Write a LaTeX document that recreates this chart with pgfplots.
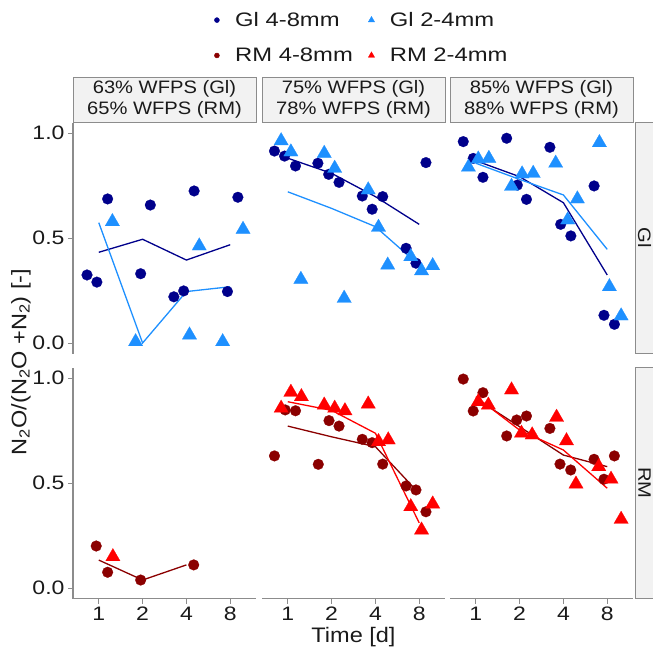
\documentclass[border=0pt]{standalone}
\usepackage{pgfplots}
\pgfplotsset{compat=1.18}
\usepackage{fontspec}
\setmainfont{Liberation Sans}
\newfontfamily\tickfont[FakeStretch=1.18]{Liberation Sans}
\newfontfamily\legfont[FakeStretch=1.22]{Liberation Sans}
\newfontfamily\titfont[FakeStretch=1.12]{Liberation Sans}
\newfontfamily\stripfont[FakeStretch=1.12]{Liberation Sans}
\definecolor{gnavy}{HTML}{00008B}
\definecolor{gblue}{HTML}{1E90FF}
\definecolor{rdark}{HTML}{8B0000}
\definecolor{rred}{HTML}{FF0000}
\definecolor{axgray}{HTML}{8C8C8C}
\definecolor{stripfill}{HTML}{F2F2F2}
\definecolor{stripdraw}{HTML}{8C8C8C}
\definecolor{txt}{HTML}{1A1A1A}
\pgfplotsset{
  every axis/.append style={scale only axis, width=183pt, height=231pt,
    xmode=log, log basis x=2,
    xmin=0.665, xmax=12.03, ymin=-0.05, ymax=1.05,
    xtick={1,2,4,8}, xticklabels={1,2,4,8},
    ytick={0,0.5,1}, yticklabels={0.0,0.5,1.0},
    tick align=outside, major tick length=5pt,
    tick style={axgray, line width=1pt},
    axis line style={axgray, line width=1.2pt, -},
    ticklabel style={font=\tickfont\fontsize{19.5}{22}\selectfont, text=txt},
    clip=false, anchor=north west},
  mycirc/.style={only marks, color=#1, mark=*, mark size=5.4pt, mark options={draw=#1, fill=#1, line width=0.2pt}},
  mytri/.style={only marks, color=#1, mark=triangle*, mark size=8.3pt, mark options={draw=#1, fill=#1, line width=0.2pt}},
  myline/.style={#1, line width=1.3pt, no marks},
}
\begin{document}
\begin{tikzpicture}
\useasboundingbox (0pt,0pt) rectangle (653pt,-656pt);
% ---------- top row (Gl) ----------
\begin{axis}[at={(73pt,-122.5pt)}, axis y line*=left, hide x axis,
  legend image code/.code={\path[draw=none, fill=none] (-3pt,-3pt) rectangle (3pt,3pt); \draw[#1] plot coordinates {(0pt,0pt)};},
  legend style={at={(0.769,1.478)}, anchor=north west, draw=none, fill=none, inner sep=0pt,
    font=\legfont\fontsize{19.5}{22}\selectfont, text=txt, legend columns=2,
    nodes={inner sep=0pt},
    /tikz/every odd column/.append style={column sep=15.3pt},
    /tikz/every even column/.append style={column sep=15.5pt},
    row sep=20pt, legend cell align=left}]
\addlegendimage{only marks, mark=*, mark size=2.5pt, mark options={draw=gnavy, fill=gnavy}}
\addlegendimage{only marks, mark=triangle*, mark size=3.6pt, mark options={draw=gblue, fill=gblue}}
\addlegendimage{only marks, mark=*, mark size=2.5pt, mark options={draw=rdark, fill=rdark}}
\addlegendimage{only marks, mark=triangle*, mark size=3.6pt, mark options={draw=rred, fill=rred}}
\legend{Gl 4-8mm, Gl 2-4mm, RM 4-8mm, RM 2-4mm}
\addplot[mycirc=gnavy, forget plot] coordinates {(0.83,0.324)(0.97,0.29)(1.15,0.686)(1.94,0.33)(2.26,0.657)(3.28,0.22)(3.83,0.248)(4.52,0.724)(7.66,0.245)(9.03,0.694)};
\addplot[mytri=gblue, forget plot] coordinates {(1.24,0.578)(1.79,0.006)(4.2,0.038)(4.9,0.462)(7.1,0.006)(9.8,0.541)};
\addplot[myline=gnavy, forget plot] coordinates {(1,0.432)(2,0.494)(4,0.395)(8,0.468)};
\addplot[myline=gblue, forget plot] coordinates {(1,0.573)(2,0.0)(4,0.245)(8,0.268)};
\end{axis}
\begin{axis}[at={(262pt,-122.5pt)}, hide x axis, hide y axis]
\addplot[mycirc=gnavy] coordinates {(0.81,0.914)(0.95,0.89)(1.13,0.843)(1.61,0.856)(1.91,0.803)(2.25,0.765)(3.25,0.70)(3.80,0.637)(4.49,0.697)(6.5,0.451)(7.6,0.38)(8.9,0.859)};
\addplot[mytri=gblue] coordinates {(0.9,0.963)(1.05,0.91)(1.23,0.303)(1.78,0.903)(2.1,0.832)(2.44,0.213)(3.57,0.729)(4.2,0.551)(4.86,0.371)(7.0,0.411)(8.3,0.344)(9.9,0.368)};
\addplot[myline=gnavy] coordinates {(1,0.88)(2,0.808)(4,0.697)(8,0.565)};
\addplot[myline=gblue] coordinates {(1,0.72)(2,0.641)(4,0.554)(8,0.37)};
\end{axis}
\begin{axis}[at={(450pt,-122.5pt)}, hide x axis, hide y axis]
\addplot[mycirc=gnavy] coordinates {(0.82,0.959)(0.96,0.879)(1.12,0.789)(1.63,0.975)(1.93,0.752)(2.23,0.684)(3.23,0.932)(3.83,0.565)(4.5,0.51)(6.5,0.748)(7.6,0.132)(8.97,0.089)};
\addplot[mytri=gblue] coordinates {(0.89,0.837)(1.04,0.876)(1.23,0.879)(1.76,0.746)(2.08,0.805)(2.48,0.808)(3.54,0.856)(4.28,0.586)(4.99,0.686)(7.07,0.954)(8.28,0.268)(9.97,0.129)};
\addplot[myline=gnavy] coordinates {(1,0.868)(2,0.792)(4,0.668)(8,0.324)};
\addplot[myline=gblue] coordinates {(1,0.856)(2,0.779)(4,0.705)(8,0.446)};
\end{axis}
% ---------- bottom row (RM) ----------
\begin{axis}[at={(73pt,-367.5pt)}, axis y line*=left, axis x line*=bottom]
\addplot[mycirc=rdark] coordinates {(0.96,0.20)(1.15,0.075)(1.94,0.038)(4.49,0.11)};
\addplot[mytri=rred] coordinates {(1.25,0.149)};
\addplot[myline=rdark] coordinates {(1,0.133)(2,0.038)(4,0.11)};
\end{axis}
\begin{axis}[at={(262pt,-367.5pt)}, axis x line*=bottom, hide y axis,
  xlabel={Time [d]}, xlabel style={font=\titfont\fontsize{21}{24}\selectfont, text=txt}]
\addplot[mycirc=rdark] coordinates {(0.81,0.629)(0.96,0.848)(1.13,0.844)(1.62,0.589)(1.92,0.797)(2.25,0.771)(3.25,0.708)(3.8,0.692)(4.49,0.59)(6.5,0.486)(7.6,0.467)(8.9,0.363)};
\addplot[mytri=rred] coordinates {(0.9,0.856)(1.05,0.932)(1.24,0.911)(1.78,0.871)(2.1,0.856)(2.47,0.844)(3.57,0.876)(4.2,0.697)(4.9,0.705)(7.0,0.387)(8.3,0.276)(9.9,0.40)};
\addplot[myline=rdark] coordinates {(1,0.771)(2,0.72)(4,0.673)(8,0.45)};
\addplot[myline=rred] coordinates {(1,0.887)(2,0.846)(4,0.737)(8,0.31)};
\end{axis}
\begin{axis}[at={(450pt,-367.5pt)}, axis x line*=bottom, hide y axis]
\addplot[mycirc=rdark] coordinates {(0.82,0.995)(0.96,0.843)(1.12,0.93)(1.63,0.724)(1.91,0.80)(2.23,0.819)(3.23,0.760)(3.79,0.59)(4.49,0.562)(6.5,0.613)(7.6,0.518)(8.96,0.629)};
\addplot[mytri=rred] coordinates {(1.04,0.887)(1.22,0.871)(1.76,0.943)(2.06,0.737)(2.44,0.729)(3.59,0.813)(4.2,0.701)(4.88,0.495)(7.0,0.578)(8.5,0.518)(9.97,0.327)};
\addplot[myline=rdark] coordinates {(1,0.903)(2,0.768)(4,0.633)(8,0.578)};
\addplot[myline=rred] coordinates {(1,0.911)(2,0.752)(4,0.657)(8,0.475)};
\end{axis}
% ---------- strips ----------
\tikzset{strip/.style={fill=stripfill, draw=stripdraw, line width=1pt},
  striptxt/.style={font=\stripfont\fontsize{18}{20.5}\selectfont, text=txt, align=center}}
\draw[strip] (73pt,-77pt) rectangle (256pt,-122.5pt);
\draw[strip] (262pt,-77pt) rectangle (445pt,-122.5pt);
\draw[strip] (450pt,-77pt) rectangle (633pt,-122.5pt);
\node[striptxt] at (164.5pt,-99.5pt) {63\% WFPS (Gl)\\65\% WFPS (RM)};
\node[striptxt] at (353.5pt,-99.5pt) {75\% WFPS (Gl)\\78\% WFPS (RM)};
\node[striptxt] at (541.5pt,-99.5pt) {85\% WFPS (Gl)\\88\% WFPS (RM)};
\draw[strip] (635pt,-122.5pt) rectangle (662pt,-353.5pt);
\draw[strip] (635pt,-367.5pt) rectangle (662pt,-598.5pt);
\node[striptxt, rotate=-90, inner sep=0pt] at (644.5pt,-238pt) {Gl};
\node[striptxt, rotate=-90, inner sep=0pt] at (644.5pt,-483pt) {RM};
% y label
\node[font=\titfont\fontsize{21}{24}\selectfont, text=txt, rotate=90] at (21pt,-362pt) {N\textsubscript{2}O/(N\textsubscript{2}O +N\textsubscript{2}) [-]};
\end{tikzpicture}
\end{document}
